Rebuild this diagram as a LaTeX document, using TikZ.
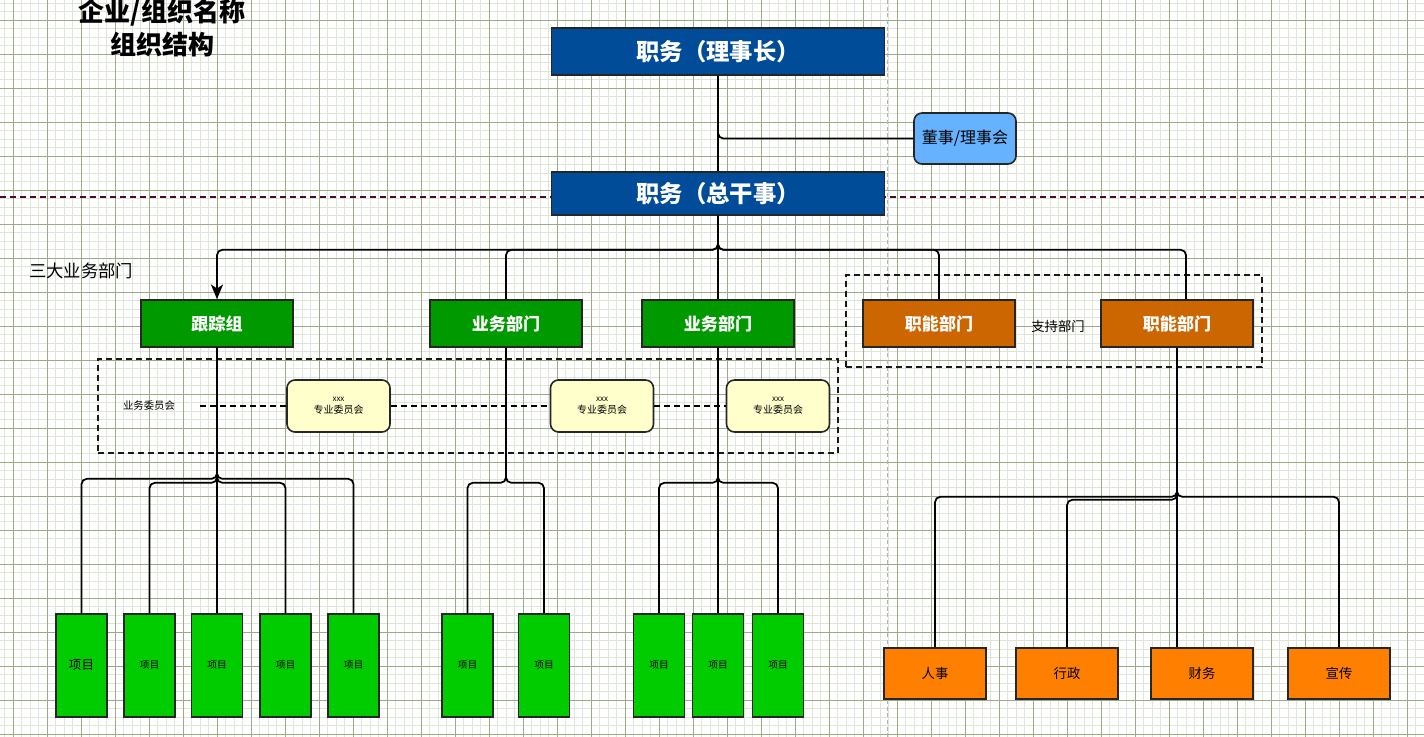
\documentclass[tikz,border=0pt]{standalone}
\usepackage{fontspec}
\setmainfont{Noto Sans CJK SC}
\usetikzlibrary{arrows.meta}

\newcommand{\px}{0.75pt}
\definecolor{gridminor}{RGB}{222,228,214}
\definecolor{gridmajor}{RGB}{155,170,135}
\definecolor{headblue}{HTML}{004C99}
\definecolor{boardblue}{HTML}{66B2FF}
\definecolor{deptgreen}{HTML}{009900}
\definecolor{funcorange}{HTML}{CC6600}
\definecolor{itemgreen}{HTML}{00CC00}
\definecolor{staffor}{HTML}{FF8000}
\definecolor{cmtyellow}{HTML}{FFFFCC}
\definecolor{splitred}{HTML}{4A0A2A}

\tikzset{
  boxline/.style={rectangle, draw=black!85, line width=1.2pt, inner sep=0pt},
  headbox/.style={boxline, fill=headblue, text=white, font=\bfseries\fontsize{17.5}{21}\selectfont, minimum width=333*\px},
  deptbox/.style={boxline, fill=#1, text=white, font=\bfseries\fontsize{12.8}{15}\selectfont, minimum width=152*\px, minimum height=47*\px},
  cmtbox/.style={boxline, rounded corners=6pt, fill=cmtyellow, align=center, font=\fontsize{7.5}{9}\selectfont, minimum width=103*\px, minimum height=52*\px},
  itembox/.style={boxline, fill=itemgreen, font=\fontsize{7.3}{9}\selectfont, minimum width=51*\px, minimum height=103*\px},
  staffbox/.style={boxline, fill=staffor, font=\fontsize{10}{12}\selectfont, minimum width=102*\px, minimum height=51*\px},
  frame/.style={draw=black!90, line width=1.1pt, dash pattern=on 4.5pt off 3pt, minimum width=#1},
  edge/.style={draw=black, line width=1.3pt, rounded corners=4pt},
}

\begin{document}
\begin{tikzpicture}[x=\px, y=-\px]
  \useasboundingbox (0,0) rectangle (1424,737);

  % canvas grid
  \foreach \x in {4.5,13,...,1424} \draw[gridminor, line width=0.4pt] (\x,0) -- (\x,737);
  \foreach \y in {3,11.5,...,737} \draw[gridminor, line width=0.4pt] (0,\y) -- (1424,\y);
  \foreach \x in {13,47,...,1424} \draw[gridmajor, line width=0.5pt] (\x,0) -- (\x,737);
  \foreach \y in {20,54,...,737} \draw[gridmajor, line width=0.5pt] (0,\y) -- (1424,\y);
  \draw[black!30, line width=0.5pt, dash pattern=on 3pt off 2pt] (887,0) -- (887,737);
  \draw[splitred, line width=1.3pt, dash pattern=on 4.5pt off 3pt] (0,197) -- (1424,197);

  \node[align=center, font=\bfseries\fontsize{19.5}{24.75}\selectfont] (title) at (162,28.5) {企业/组织名称\\组织结构};

  \node[headbox, minimum height=47*\px] (chair) at (718,51.5) {职务（理事长）};
  \node[boxline, rounded corners=6pt, fill=boardblue, font=\fontsize{12}{14}\selectfont, minimum width=102*\px, minimum height=51*\px] (board) at (965,138.5) {董事/理事会};
  \node[headbox, minimum height=43*\px] (gen) at (718,193.5) {职务（总干事）};

  \node[font=\fontsize{13}{15}\selectfont] (bizlabel) at (81,271) {三大业务部门};
  \node[frame=416*\px, minimum height=92*\px] (funcframe) at (1054,321) {};
  \node[frame=740*\px, minimum height=94*\px] (bizframe) at (468,406) {};

  \node[deptbox=deptgreen] (track) at (217,323.5) {跟踪组};
  \node[deptbox=deptgreen] (biz1) at (506,323.5) {业务部门};
  \node[deptbox=deptgreen] (biz2) at (718,323.5) {业务部门};
  \node[deptbox=funcorange] (func1) at (939,323.5) {职能部门};
  \node[deptbox=funcorange] (func2) at (1177,323.5) {职能部门};
  \node[font=\fontsize{10}{12}\selectfont] (funclabel) at (1058,326) {支持部门};

  \draw[edge] (chair.south) |- (board.west);
  \draw[edge] (chair) -- (gen);
  \draw[edge, -{Stealth[length=11pt, width=9pt, inset=3pt]}] (gen.south) -- ++(0,34) -| (track.north);
  \draw[edge] (gen.south) -- ++(0,34) -| (biz1.north);
  \draw[edge] (gen.south) -- (biz2.north);
  \draw[edge] (gen.south) -- ++(0,34) -| (func1.north);
  \draw[edge] (gen.south) -- ++(0,34) -| ([xshift=9*\px]func2.north);

  % committees
  \node[font=\fontsize{7.8}{9}\selectfont] (cmtlabel) at (149,406) {业务委员会};
  \coordinate (cmtstart) at (200,406);
  \node[cmtbox] (cmt1) at (338.5,406) {{\fontsize{6}{6}\selectfont xxx}\\专业委员会};
  \node[cmtbox] (cmt2) at (602,406) {{\fontsize{6}{6}\selectfont xxx}\\专业委员会};
  \node[cmtbox] (cmt3) at (778,406) {{\fontsize{6}{6}\selectfont xxx}\\专业委员会};
  \draw[black, line width=1.1pt, dash pattern=on 4.5pt off 3pt] (cmtstart) -- (cmt1.west) (cmt1.east) -- (cmt2.west) (cmt2.east) -- (cmt3.west);

  % projects
  \node[itembox, font=\fontsize{9.4}{11}\selectfont] (t1) at (81.5,665.5) {项目};
  \foreach \x [count=\i from 2] in {149.5,217,285.5,353.5}
    \node[itembox] (t\i) at (\x,665.5) {项目};
  \node[itembox] (b1) at (467.5,665.5) {项目};
  \node[itembox] (b2) at (544,665.5) {项目};
  \node[itembox] (c1) at (659,665.5) {项目};
  \node[itembox] (c2) at (718,665.5) {项目};
  \node[itembox] (c3) at (778,665.5) {项目};

  \draw[edge] (track.south) -- ++(0,131) -| (t1.north);
  \draw[edge] (track.south) -- ++(0,135) -| (t2.north);
  \draw[edge] (track.south) -- (t3.north);
  \draw[edge] (track.south) -- ++(0,135) -| (t4.north);
  \draw[edge] (track.south) -- ++(0,131) -| (t5.north);
  \draw[edge] (biz1.south) -- ++(0,135) -| (b1.north);
  \draw[edge] (biz1.south) -- ++(0,135) -| (b2.north);
  \draw[edge] (biz2.south) -- ++(0,135) -| (c1.north);
  \draw[edge] (biz2.south) -- (c2.north);
  \draw[edge] (biz2.south) -- ++(0,135) -| (c3.north);

  % support staff
  \node[staffbox] (hr) at (935,673.5) {人事};
  \node[staffbox] (admin) at (1067,673.5) {行政};
  \node[staffbox] (fin) at (1202,673.5) {财务};
  \node[staffbox] (pr) at (1339,673.5) {宣传};

  \draw[edge] (func2.south) -- ++(0,149) -| (hr.north);
  \draw[edge] (func2.south) -- ++(0,152) -| (admin.north);
  \draw[edge] (func2.south) -- (func2.south |- fin.north);
  \draw[edge] (func2.south) -- ++(0,149) -| (pr.north);
\end{tikzpicture}
\end{document}
